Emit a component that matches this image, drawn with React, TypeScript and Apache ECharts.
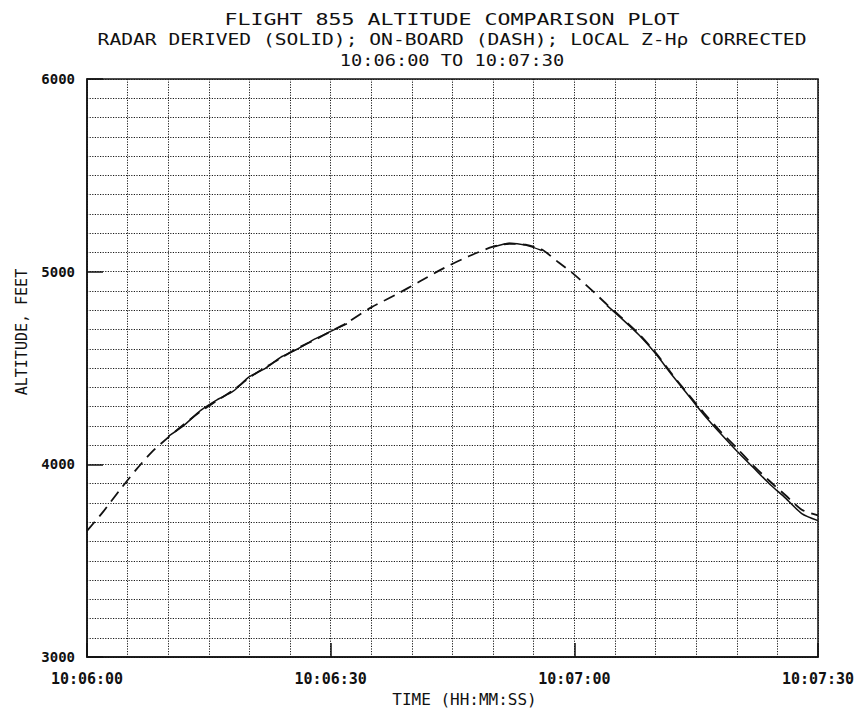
import React, { useEffect, useRef } from "react";
import * as echarts from "echarts";

// Time offsets (seconds after 10:06:00)
const timeSec = [0, 2, 4, 6, 8, 10, 12, 14, 16, 18, 20, 22, 24, 26, 28, 30, 32, 35, 38, 41, 44, 47, 50, 52, 54, 56, 58, 60, 62, 64, 66, 68, 70, 72, 74, 76, 78, 80, 82, 84, 86, 88, 90];

// On-board altitude (dashed), feet
const onBoardAlt = [3655, 3755, 3865, 3970, 4065, 4140, 4210, 4275, 4330, 4385, 4450, 4505, 4555, 4605, 4645, 4690, 4735, 4815, 4880, 4950, 5020, 5080, 5130, 5145, 5140, 5115, 5050, 4985, 4910, 4830, 4755, 4675, 4580, 4470, 4365, 4265, 4170, 4085, 3995, 3915, 3840, 3765, 3735];

// Radar-derived altitude (solid), feet; null where no solid trace is drawn
const radarAlt = [null, null, null, null, null, 4145, 4205, 4280, 4335, 4380, 4455, 4500, 4560, 4600, 4650, 4690, 4730, null, null, null, null, null, 5128, 5148, 5138, 5110, null, null, null, 4825, 4750, 4670, 4575, 4465, 4360, 4255, 4160, 4070, 3985, 3900, 3825, 3745, 3708];

const xTickLabels = ["10:06:00", "10:06:30", "10:07:00", "10:07:30"];

const titleLines = [
  "FLIGHT 855 ALTITUDE COMPARISON PLOT",
  "RADAR DERIVED (SOLID); ON-BOARD (DASH); LOCAL Z-H\u03C1 CORRECTED",
  "10:06:00 TO 10:07:30",
];

const FONT = "DejaVu Sans Mono";
const INK = "#111";
const GRID_INK = "#1a1a1a";

export default function App() {
  const ref = useRef<HTMLDivElement>(null);

  useEffect(() => {
    if (!ref.current) return;
    const chart = echarts.init(ref.current, null, { renderer: "svg" });

    const titleY = [19, 39, 60];
    const titleScale = [1.31, 1.19, 1.13];

    chart.setOption({
      animation: false,
      backgroundColor: "#fff",
      graphic: titleLines.map((t, i) => ({
        type: "text",
        x: 452,
        y: titleY[i],
        scaleX: titleScale[i],
        style: {
          text: t,
          fontFamily: FONT,
          fontSize: 16.5,
          fill: INK,
          align: "center",
          verticalAlign: "middle",
        },
      })),
      grid: {
        left: 87,
        right: 49,
        top: 79,
        bottom: 49,
        show: true,
        borderColor: INK,
        borderWidth: 1.5,
        backgroundColor: "transparent",
      },
      xAxis: {
        type: "value",
        min: 0,
        max: 90,
        interval: 30,
        name: "TIME (HH:MM:SS)",
        nameLocation: "middle",
        nameGap: 32,
        nameTextStyle: {
          fontFamily: FONT,
          fontSize: 16,
          color: INK,
          padding: [0, 0, 0, 24],
        },
        axisLine: { show: true, lineStyle: { color: INK, width: 1.5 } },
        axisTick: { show: true, inside: true, length: 14, lineStyle: { color: INK, width: 1.5 } },
        minorTick: { show: false, splitNumber: 6 },
        axisLabel: {
          fontFamily: FONT,
          fontSize: 15,
          fontWeight: "bold",
          color: INK,
          margin: 14,
          formatter: (v: number) => xTickLabels[Math.round(v / 30)] ?? "",
        },
        splitLine: { show: true, lineStyle: { color: GRID_INK, width: 1, type: [1.2, 1.4] } },
        minorSplitLine: { show: true, lineStyle: { color: GRID_INK, width: 1, type: [1.2, 1.4] } },
      },
      yAxis: {
        type: "value",
        min: 3000,
        max: 6000,
        interval: 1000,
        name: "ALTITUDE, FEET",
        nameLocation: "middle",
        nameGap: 58,
        nameTextStyle: {
          fontFamily: FONT,
          fontSize: 15,
          color: INK,
          padding: [0, 0, 0, 72],
        },
        axisLine: { show: true, lineStyle: { color: INK, width: 1.5 } },
        axisTick: { show: true, inside: true, length: 16, lineStyle: { color: INK, width: 1.5 } },
        minorTick: { show: false, splitNumber: 10 },
        axisLabel: {
          fontFamily: FONT,
          fontSize: 14,
          fontWeight: "bold",
          color: INK,
          margin: 12,
          formatter: (v: number) => String(v),
        },
        splitLine: { show: true, lineStyle: { color: GRID_INK, width: 1, type: [1.2, 1.4] } },
        minorSplitLine: { show: true, lineStyle: { color: GRID_INK, width: 1, type: [1.2, 1.4] } },
      },
      series: [
        {
          name: "ON-BOARD",
          type: "line",
          data: timeSec.map((t, i) => [t, onBoardAlt[i]]),
          showSymbol: false,
          smooth: 0.25,
          lineStyle: { color: INK, width: 1.8, type: [12, 7] },
          z: 3,
        },
        {
          name: "RADAR DERIVED",
          type: "line",
          data: timeSec.map((t, i) => [t, radarAlt[i] === null ? "-" : radarAlt[i]]),
          showSymbol: false,
          connectNulls: false,
          smooth: 0.25,
          lineStyle: { color: INK, width: 1.5, type: "solid" },
          z: 4,
        },
      ],
    });

    return () => chart.dispose();
  }, []);

  return (
    <div
      ref={ref}
      style={{ position: "fixed", left: 0, top: 0, width: 867, height: 712, background: "#fff" }}
    />
  );
}
